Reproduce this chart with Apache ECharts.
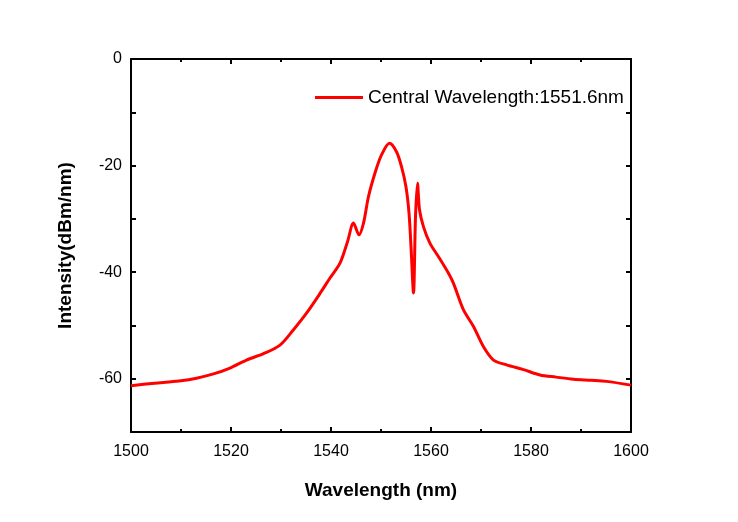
<!DOCTYPE html>
<html>
<head>
<meta charset="utf-8">
<script src="https://cdn.jsdelivr.net/npm/echarts@6/dist/echarts.min.js"></script>
<style>html,body{margin:0;padding:0;background:#fff;}#c{width:738px;height:522px;}</style>
</head>
<body>
<div id="c"></div>
<script>
var seriesName = 'Central Wavelength:1551.6nm';
var wavelength = [1500, 1503, 1506.5, 1510, 1513.1, 1516.5, 1519.8, 1523.1, 1526.5, 1529.8, 1532.5, 1535.1, 1537.8, 1539.8, 1541.8, 1543.3, 1544.5, 1545.6, 1546.5, 1547.5, 1548.8, 1550.1, 1551.7, 1553.1, 1554.1, 1555, 1555.6, 1556, 1556.5, 1556.9, 1557.3, 1557.7, 1558.5, 1559.8, 1561.5, 1563.5, 1564.5, 1566.5, 1568.5, 1570.5, 1572.5, 1575.1, 1578.5, 1581.8, 1585, 1588.5, 1592, 1595.1, 1600];
var intensity  = [-61.3, -61.0, -60.7, -60.4, -59.9, -59.1, -58.0, -56.5, -55.3, -53.7, -50.8, -47.7, -44.0, -41.1, -38.3, -34.3, -30.8, -33.0, -30.8, -25.8, -21.4, -18.0, -15.8, -17.4, -20.2, -24.0, -28.9, -35.2, -43.9, -29.6, -23.3, -28.3, -31.5, -34.6, -37.1, -40.2, -42.1, -47.1, -50.2, -54.0, -56.5, -57.4, -58.3, -59.3, -59.7, -60.1, -60.3, -60.5, -61.2];
var xTicks = [1500, 1520, 1540, 1560, 1580, 1600];
var yTicks = [-60, -40, -20, 0];

var data = wavelength.map(function (x, i) { return [x, intensity[i]]; });
var font = '"Liberation Sans", Arial, sans-serif';
var axisLine = { show: true, onZero: false, lineStyle: { color: '#000', width: 2 } };
var axisTick = { show: true, inside: true, length: 5, lineStyle: { color: '#000', width: 2 } };
var minorTick = { show: true, splitNumber: 2, length: 3, lineStyle: { color: '#000', width: 2 } };

var chart = echarts.init(document.getElementById('c'), null, { renderer: 'canvas' });
chart.setOption({
  animation: false,
  backgroundColor: '#fff',
  grid: { left: 131, right: 107, top: 59, bottom: 90, containLabel: false },
  legend: {
    show: true, left: 310, top: 83,
    itemWidth: 48, itemHeight: 14, itemGap: 5,
    textStyle: { fontFamily: font, fontSize: 19, color: '#000' },
    data: [{ name: seriesName, icon: 'path://M0,0 L48,0 L48,3 L0,3 Z' }]
  },
  xAxis: [{
    type: 'value', min: 1500, max: 1600, interval: 20, position: 'bottom',
    name: 'Wavelength (nm)', nameLocation: 'middle', nameGap: 49,
    nameTextStyle: { fontFamily: font, fontSize: 19, fontWeight: 'bold', color: '#000' },
    axisLine: axisLine, axisTick: axisTick, minorTick: minorTick,
    splitLine: { show: false },
    axisLabel: { margin: 12, fontFamily: font, fontSize: 16, color: '#000',
      formatter: function (v) { return xTicks.indexOf(v) >= 0 ? String(v) : ''; } }
  }, {
    type: 'value', min: 1500, max: 1600, interval: 20, position: 'top',
    axisLine: axisLine, axisTick: axisTick, minorTick: minorTick,
    splitLine: { show: false }, axisLabel: { show: false }
  }],
  yAxis: [{
    type: 'value', min: -70, max: 0, interval: 10, position: 'left',
    name: 'Intensity(dBm/nm)', nameLocation: 'middle', nameGap: 56, nameRotate: 90,
    nameTextStyle: { fontFamily: font, fontSize: 19, fontWeight: 'bold', color: '#000' },
    axisLine: axisLine,
    axisTick: { show: true, inside: true, length: 5, lineStyle: { color: '#000', width: 2 } },
    minorTick: { show: false },
    splitLine: { show: false },
    axisLabel: { margin: 9, fontFamily: font, fontSize: 16, color: '#000',
      formatter: function (v) { return yTicks.indexOf(v) >= 0 ? String(v) : ''; } }
  }, {
    type: 'value', min: -70, max: 0, interval: 10, position: 'right',
    axisLine: axisLine,
    axisTick: { show: true, inside: true, length: 5, lineStyle: { color: '#000', width: 2 } },
    splitLine: { show: false }, axisLabel: { show: false }
  }],
  series: [{
    name: seriesName, type: 'line', xAxisIndex: 0, yAxisIndex: 0,
    data: data, symbol: 'none', smooth: 0.3,
    lineStyle: { color: '#ff0000', width: 3 },
    itemStyle: { color: '#ff0000' }
  }]
});
</script>
</body>
</html>
